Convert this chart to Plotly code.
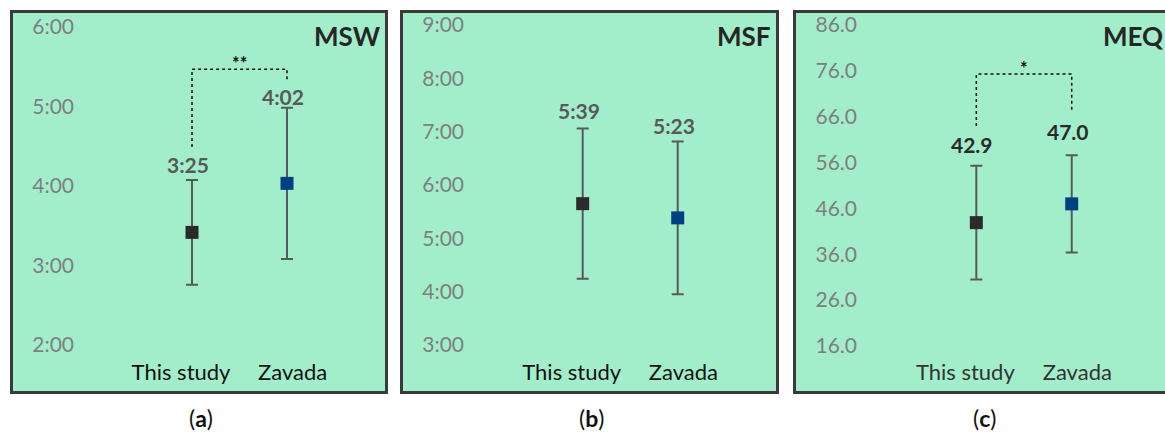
import plotly.graph_objects as go

W, H = 1165, 437

# ---------------- data ----------------
groups = ["This study", "Zavada"]
panel_titles = ["MSW", "MSF", "MEQ"]
panel_letters = ["a", "b", "c"]

msw_mean = [3 + 25/60, 4 + 2/60]      # hours
msw_sd = [0.66, 0.95]
msf_mean = [5 + 39/60, 5 + 23/60]     # hours
msf_sd = [1.41, 1.43]
meq_mean = [42.9, 47.0]
meq_sd = [12.4, 10.6]

msw_ticks = [2, 3, 4, 5, 6]
msf_ticks = [3, 4, 5, 6, 7, 8, 9]
meq_ticks = [16, 26, 36, 46, 56, 66, 76, 86]

# significance brackets: (left foot, top, right foot, label)
msw_bracket = (4.49, 5.47, 5.31, "**")
meq_bracket = (64.0, 75.3, 67.2, "*")

# ---------------- helpers ----------------
def hm(h):
    m = int(round(h * 60))
    return f"{m // 60}:{m % 60:02d}"

def px(x):
    return x / W

def py(y):
    return 1 - y / H

FONT = "Lato, 'Open Sans', sans-serif"
colors = ["#2b2b2b", "#004080"]
NB = "\u00a0"
cat_text = ["This study" + NB * 4, NB * 2 + "Zavada"]

panels = [
    dict(mean=msw_mean, sd=msw_sd, ticks=msw_ticks, ticktext=[hm(t) for t in msw_ticks],
         labels=[hm(v) for v in msw_mean], yrange=[1.849, 6.214], lshift=[1, -3],
         box=(10, 388), dom=(78, 388), xr=[-1.2, 2.063], bracket=msw_bracket,
         vcol="#595959", ccol="#111111"),
    dict(mean=msf_mean, sd=msf_sd, ticks=msf_ticks, ticktext=[hm(t) for t in msf_ticks],
         labels=[hm(v) for v in msf_mean], yrange=[2.775, 9.281], lshift=[3, 2],
         box=(400, 779), dom=(468, 779), xr=[-1.207, 2.066], bracket=None,
         vcol="#595959", ccol="#111111"),
    dict(mean=meq_mean, sd=meq_sd, ticks=meq_ticks, ticktext=[f"{t:.1f}" for t in meq_ticks],
         labels=[f"{v:.1f}" for v in meq_mean], yrange=[13.60, 89.27], lshift=[7, 9],
         box=(793, 1175), dom=(861, 1165), xr=[-1.209, 1.978], bracket=meq_bracket,
         vcol="#2a2a2a", ccol="#333333"),
]

fig = go.Figure()
shapes = []
annotations = []
layout_axes = {}

for i, p in enumerate(panels):
    n = "" if i == 0 else str(i + 1)
    xa, ya = "x" + n, "y" + n
    bx0, bx1 = p["box"]
    # panel background with border
    shapes.append(dict(type="rect", xref="paper", yref="paper",
                       x0=px(bx0 + 1.5), x1=px(bx1 - 1.5), y0=py(392.5), y1=py(11.5),
                       fillcolor="#A2EECB", line=dict(color="#3a3a3a", width=3), layer="below"))
    # error bars + markers
    for g in range(2):
        fig.add_trace(go.Scatter(
            x=[groups[g]], y=[p["mean"][g]], mode="markers",
            marker=dict(symbol="square", size=13, color=colors[g],
                        line=dict(color=colors[g], width=0)),
            error_y=dict(type="data", array=[p["sd"][g]], color="#595959",
                         thickness=2, width=6),
            xaxis=xa, yaxis=ya, showlegend=False, hoverinfo="skip"))
        annotations.append(dict(x=groups[g], y=p["mean"][g] + p["sd"][g], xref=xa, yref=ya,
                                text=f"<b>{p['labels'][g]}</b>", showarrow=False,
                                yanchor="bottom", yshift=p["lshift"][g], xshift=-4,
                                font=dict(family=FONT, size=21, color=p["vcol"])))
    # bracket
    if p["bracket"]:
        lb, top, rb, star = p["bracket"]
        fig.add_trace(go.Scatter(
            x=[groups[0], groups[0], groups[1], groups[1]], y=[lb, top, top, rb],
            mode="lines", line=dict(color="#111111", width=1.5, dash="dot"),
            xaxis=xa, yaxis=ya, showlegend=False, hoverinfo="skip"))
        annotations.append(dict(x=0.5, y=top, xref=xa, yref=ya, text=f"<b>{star}</b>",
                                showarrow=False, yanchor="bottom", yshift=-7,
                                font=dict(family=FONT, size=18, color="#111111")))
    # title
    annotations.append(dict(x=px(bx0 + 373), y=py(36), xref="paper", yref="paper",
                            text=f"<b>{panel_titles[i]}</b>", showarrow=False,
                            xanchor="right", yanchor="middle",
                            font=dict(family=FONT, size=26, color="#262626")))
    # sub label
    annotations.append(dict(x=px(bx0 + 191), y=py(418), xref="paper", yref="paper",
                            text=f"(<b>{panel_letters[i]}</b>)", showarrow=False,
                            xanchor="center", yanchor="middle",
                            font=dict(family=FONT, size=23, color="#111111")))
    d0, d1 = p["dom"]
    layout_axes["xaxis" + n] = dict(domain=[px(d0), min(px(d1), 1.0)], anchor=ya,
                                    type="category", range=p["xr"], showgrid=False,
                                    zeroline=False, showline=False, ticks="",
                                    tickvals=groups, ticktext=cat_text, tickangle=0,
                                    automargin=False,
                                    tickfont=dict(family=FONT, size=22, color=p["ccol"]),
                                    fixedrange=True)
    layout_axes["yaxis" + n] = dict(domain=[py(357), py(10)], anchor=xa,
                                    range=p["yrange"], tickvals=p["ticks"],
                                    ticktext=p["ticktext"], showgrid=False, zeroline=False,
                                    showline=False, ticks="", ticklabelstandoff=3,
                                    automargin=False,
                                    tickfont=dict(family=FONT, size=21, color="#7f7f7f"),
                                    fixedrange=True)

fig.update_layout(width=W, height=H, margin=dict(l=0, r=0, t=0, b=0),
                  paper_bgcolor="white", plot_bgcolor="rgba(0,0,0,0)",
                  shapes=shapes, annotations=annotations, **layout_axes)

fig.write_html("out.html", config={"displayModeBar": False},
               post_script="document.body.style.margin='0';")
